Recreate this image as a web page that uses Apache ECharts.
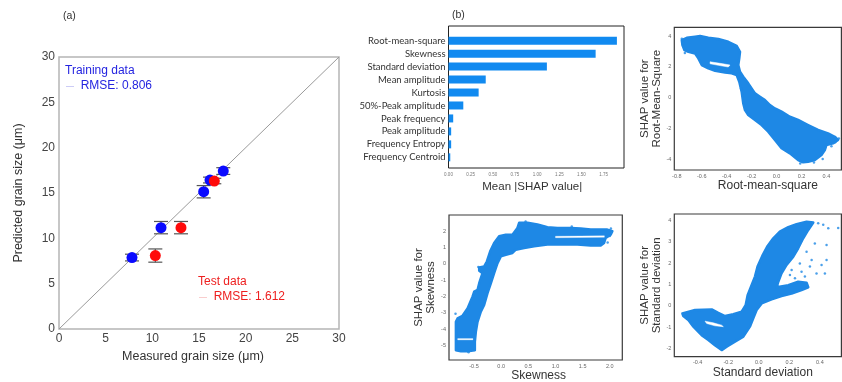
<!DOCTYPE html>
<html><head><meta charset="utf-8">
<script src="https://cdn.jsdelivr.net/npm/echarts@6/dist/echarts.min.js"></script>
<style>html,body{margin:0;padding:0;background:#fff}#c{width:842px;height:382px}</style>
</head><body><div id="c"></div>
<script>
// ---------- Panel (a): measured vs predicted grain size ----------
const trainMeasured  = [7.82, 10.93, 15.5, 16.18, 17.6];
const trainPredicted = [7.88, 11.18, 15.14, 16.43, 17.42];
const trainErr       = [0.37, 0.68, 0.68, 0.32, 0.37];
const testMeasured   = [10.32, 13.07, 16.64];
const testPredicted  = [8.1, 11.18, 16.32];
const testErr        = [0.73, 0.68, 0.3];
const identityLine   = [[0, 0], [30, 30]];

// ---------- Panel (b): mean |SHAP| ----------
const features = ['Root-mean-square','Skewness','Standard deviation','Mean amplitude','Kurtosis',
  '50%-Peak amplitude','Peak frequency','Peak amplitude','Frequency Entropy','Frequency Centroid'];
const meanShap = [1.90, 1.66, 1.11, 0.42, 0.34, 0.167, 0.053, 0.03, 0.03, 0.02];

// ---------- Dependence clouds (outline of dense region) ----------
const rmsCloud = [[-0.76,3.74],[-0.72,3.89],[-0.653,3.96],[-0.613,4.0],[-0.547,3.89],[-0.467,3.81],
  [-0.387,3.63],[-0.32,3.37],[-0.293,2.98],[-0.299,2.55],[-0.307,2.12],[-0.293,1.68],[-0.267,1.36],
  [-0.227,0.93],[-0.173,0.28],[-0.133,0.06],[-0.093,-0.16],[-0.053,-0.48],[-0.013,-0.7],[0.04,-0.91],
  [0.107,-1.24],[0.173,-1.45],[0.253,-1.78],[0.333,-2.1],[0.413,-2.32],[0.467,-2.54],[0.493,-2.75],
  [0.453,-2.97],[0.4,-3.08],[0.387,-3.4],[0.36,-3.73],[0.307,-4.05],[0.253,-4.16],[0.213,-4.2],
  [0.173,-4.05],[0.107,-3.62],[0.04,-3.29],[-0.013,-2.75],[-0.067,-2.21],[-0.12,-1.78],[-0.173,-1.45],
  [-0.227,-1.13],[-0.253,-0.81],[-0.267,-0.37],[-0.28,0.39],[-0.299,1.03],[-0.32,1.47],[-0.36,1.58],
  [-0.413,1.64],[-0.493,1.75],[-0.547,1.9],[-0.6,2.12],[-0.627,2.55],[-0.653,2.87],[-0.707,2.98],
  [-0.739,3.09],[-0.755,3.42]];
const rmsHole = [[-0.533,2.33],[-0.453,2.23],[-0.373,2.12],[-0.387,1.99],[-0.467,2.1],[-0.533,2.2]];
const rmsStray = [[-0.76,3.82],[-0.745,3.55],[-0.735,2.9],[0.47,-2.9],[0.44,-3.15],[0.37,-3.98],
  [0.3,-4.22],[0.19,-4.28],[0.5,-2.65],[-0.285,0.6]];

const skewCloud = [[-0.833,-5.29],[-0.833,-3.55],[-0.803,-3.34],[-0.711,-3.18],[-0.619,-2.73],
  [-0.527,-2.01],[-0.496,-1.7],[-0.435,-1.6],[-0.404,-1.19],[-0.374,-0.88],[-0.343,-0.57],[-0.404,-0.43],
  [-0.404,-0.23],[-0.312,-0.16],[-0.263,0.14],[-0.202,0.76],[-0.129,1.27],[-0.037,1.68],[0.086,1.78],
  [0.208,1.78],[0.3,2.19],[0.331,2.5],[0.484,2.5],[0.668,2.4],[0.852,2.23],[1.036,2.19],[1.281,2.19],
  [1.464,2.15],[1.648,2.09],[1.832,2.09],[1.955,2.09],[2.047,1.99],[2.016,1.78],[1.924,1.58],
  [1.893,1.27],[1.832,1.11],[1.648,1.11],[1.403,1.17],[1.158,1.17],[0.852,1.17],[0.607,1.07],
  [0.423,0.96],[0.27,0.86],[0.208,0.66],[0.086,0.55],[-0.006,0.45],[-0.067,0.04],[-0.129,-0.57],
  [-0.19,-1.19],[-0.251,-1.8],[-0.313,-2.52],[-0.374,-2.93],[-0.435,-3.55],[-0.466,-4.16],
  [-0.484,-4.77],[-0.484,-5.29],[-0.619,-5.35],[-0.741,-5.35]];
const skewGapTop = [[1.0,1.68],[1.9,1.71],[1.9,1.62],[1.0,1.59]];
const skewGapLow = [[-0.8,-4.57],[-0.52,-4.57],[-0.52,-4.65],[-0.8,-4.65]];
const skewStray = [[2.02,2.16],[2.0,1.7],[1.96,1.3],[-0.84,-3.05],[-0.6,-5.4],[0.45,2.58],[1.3,2.28],[-0.42,-0.2]];

const stdCloud = [[-0.5,-0.36],[-0.417,-0.2],[-0.308,-0.17],[-0.265,-0.33],[-0.221,-0.48],[-0.167,-0.4],
  [-0.112,-0.28],[-0.086,0.03],[-0.073,0.5],[-0.051,0.9],[-0.025,1.37],[-0.008,1.84],[0.023,2.34],
  [0.058,2.81],[0.095,3.17],[0.138,3.48],[0.193,3.69],[0.247,3.83],[0.313,3.95],[0.357,3.91],
  [0.324,3.56],[0.291,3.17],[0.258,2.7],[0.226,2.31],[0.182,1.92],[0.149,1.52],[0.128,1.13],
  [0.117,0.87],[0.193,0.97],[0.258,1.13],[0.313,1.08],[0.324,0.87],[0.28,0.74],[0.215,0.58],
  [0.149,0.46],[0.084,0.3],[0.019,0.11],[-0.014,-0.2],[-0.036,-0.59],[-0.058,-0.98],[-0.101,-1.45],
  [-0.156,-1.69],[-0.21,-1.92],[-0.243,-2.08],[-0.287,-1.85],[-0.33,-1.61],[-0.374,-1.38],
  [-0.428,-0.98],[-0.461,-0.67],[-0.494,-0.48]];
const stdHole = [[-0.352,-0.72],[-0.298,-0.8],[-0.243,-0.91],[-0.232,-0.98],[-0.287,-0.94],[-0.341,-0.83]];
const stdStray = [[0.389,3.87],[0.422,3.8],[0.455,3.64],[0.367,2.93],[0.444,2.86],[0.346,2.15],
  [0.411,1.92],[0.444,2.15],[0.378,1.52],[0.433,1.52],[0.28,1.6],[0.237,1.29],[0.204,1.45],
  [0.313,2.54],[0.335,1.84],[0.215,1.68],[0.269,1.99],[0.302,1.37],[0.52,3.65]];

// ---------- helpers ----------
const CLOUD = '#1e88e5';
const SANS = '"Liberation Sans", Arial, sans-serif';
function polySeries(points, fill, xi, lw){
  return {type:'custom', coordinateSystem:'cartesian2d', xAxisIndex:xi, yAxisIndex:xi, silent:true,
    data: points, encode:{x:0,y:1}, clip:true,
    renderItem:(params, api)=> params.dataIndex!==0 ? null : {type:'polygon',
      shape:{points: points.map(p=>api.coord(p))},
      style:{fill: fill, stroke: fill, lineWidth: lw, lineJoin:'round'}}};
}
function strayScatter(points, xi){
  return {type:'scatter', xAxisIndex:xi, yAxisIndex:xi, data:points, symbolSize:2.5,
    itemStyle:{color:CLOUD}, silent:true};
}
function errRender(params, api){
  const x=api.value(0), lo=api.value(1), hi=api.value(2);
  const a=api.coord([x,lo]), b=api.coord([x,hi]);
  const w=7, st={stroke:'#555', lineWidth:1.2};
  return {type:'group', children:[
    {type:'line', shape:{x1:a[0],y1:a[1],x2:b[0],y2:b[1]}, style:st},
    {type:'line', shape:{x1:a[0]-w,y1:a[1],x2:a[0]+w,y2:a[1]}, style:st},
    {type:'line', shape:{x1:b[0]-w,y1:b[1],x2:b[0]+w,y2:b[1]}, style:st}]};
}
const tiny = {fontSize:5.5, color:'#666', fontFamily:SANS, margin:3};
function depX(gi,min,max,step,name,padL,dec){
  return {gridIndex:gi, type:'value', min:min, max:max, minInterval:step, maxInterval:step,
    axisLine:{show:false}, axisTick:{show:false}, splitLine:{show:false},
    axisLabel:Object.assign({showMinLabel:false, showMaxLabel:false, formatter:v=>v.toFixed(dec)}, tiny),
    name:name, nameLocation:'middle', nameGap:10,
    nameTextStyle:{fontSize:12, color:'#333', fontFamily:SANS, padding:[0,0,0,padL]}};
}
function depY(gi,min,max,step,name,gap){
  return {gridIndex:gi, type:'value', min:min, max:max, minInterval:step, maxInterval:step,
    axisLine:{show:false}, axisTick:{show:false}, splitLine:{show:false},
    axisLabel:Object.assign({showMinLabel:false, showMaxLabel:false}, tiny),
    name:name, nameLocation:'middle', nameGap:gap, nameRotate:90,
    nameTextStyle:{fontSize:11.5, color:'#333', fontFamily:SANS, lineHeight:12}};
}

const chart = echarts.init(document.getElementById('c'), null, {renderer:'canvas'});
const gs = {show:true, borderColor:'#3a3a3a', borderWidth:1.2, outerBoundsMode:'none'};
chart.setOption({
  animation:false,
  backgroundColor:'#fff',
  grid:[
    {left:59, top:57, width:280, height:272, show:true, borderColor:'#b5b5b5', borderWidth:1.5, outerBoundsMode:'none'},
    Object.assign({left:448.5, top:26, width:175.5, height:142}, gs, {borderColor:'#222', borderWidth:1}),
    {left:448.5, top:34.2, width:175.5, height:129.6, show:false, outerBoundsMode:'none'},
    Object.assign({left:674.3, top:27.3, right:0.6, height:142.7}, gs),
    Object.assign({left:449, top:215, width:173.3, height:145}, gs),
    Object.assign({left:674.3, top:214, right:0.6, height:142.7}, gs)
  ],
  xAxis:[
    {gridIndex:0, type:'value', min:0, max:30, interval:5, axisLine:{show:false}, axisTick:{show:false},
     splitLine:{show:false}, axisLabel:{fontSize:12, color:'#444', fontFamily:SANS, margin:4},
     name:'Measured grain size (μm)', nameLocation:'middle', nameGap:15,
     nameTextStyle:{fontSize:12.5, color:'#333', fontFamily:SANS, padding:[0,12,0,0]}},
    {gridIndex:1, type:'value', min:0, max:1.98, interval:0.25, axisLine:{show:false}, axisTick:{show:false},
     splitLine:{show:false}, axisLabel:{fontSize:4.5, color:'#777', fontFamily:SANS, margin:4, showMaxLabel:false, formatter:v=>v.toFixed(2)},
     name:'Mean |SHAP value|', nameLocation:'middle', nameGap:13,
     nameTextStyle:{fontSize:11.5, color:'#333', fontFamily:SANS, padding:[0,8,0,0]}},
    {gridIndex:2, type:'value', min:0, max:1.98, show:false},
    depX(3,-0.82,0.52,0.2,'Root-mean-square',20,1),
    depX(4,-0.96,2.23,0.5,'Skewness',6,1),
    depX(5,-0.553,0.541,0.2,'Standard deviation',10,1)
  ],
  yAxis:[
    {gridIndex:0, type:'value', min:0, max:30, interval:5, axisLine:{show:false}, axisTick:{show:false},
     splitLine:{show:false}, axisLabel:{fontSize:12, color:'#444', fontFamily:SANS, margin:4},
     name:'Predicted grain size (μm)', nameLocation:'middle', nameGap:34, nameRotate:90,
     nameTextStyle:{fontSize:12.5, color:'#333', fontFamily:SANS}},
    {gridIndex:1, type:'value', show:false},
    {gridIndex:2, type:'category', data:features, inverse:true, axisLine:{show:false}, axisTick:{show:false},
     axisLabel:{interval:0, fontSize:9.5, color:'#333', fontFamily:'Lato, "Open Sans", sans-serif', margin:3}},
    depY(3,-4.7,4.57,2,'SHAP value for\nRoot-Mean-Square',7),
    depY(4,-5.88,2.98,1,'SHAP value for\nSkewness',9),
    depY(5,-2.39,4.31,1,'SHAP value for\nStandard deviation',8)
  ],
  graphic:[
    {type:'text', left:63, top:11, style:{text:'(a)', fontSize:10.5, fill:'#333', fontFamily:SANS}},
    {type:'text', left:452, top:10, style:{text:'(b)', fontSize:10.5, fill:'#333', fontFamily:SANS}},
    {type:'text', left:65, top:65, style:{text:'Training data', fontSize:12, fill:'#2424e0', fontFamily:SANS}},
    {type:'text', left:66, top:80, style:{text:'{d|—}  RMSE: 0.806', fontSize:12, fill:'#2424e0', fontFamily:SANS,
      rich:{d:{fontSize:8, fill:'#9a9aee'}}}},
    {type:'text', left:198, top:276, style:{text:'Test data', fontSize:12, fill:'#ee2020', fontFamily:SANS}},
    {type:'text', left:199, top:291, style:{text:'{d|—}  RMSE: 1.612', fontSize:12, fill:'#ee2020', fontFamily:SANS,
      rich:{d:{fontSize:8, fill:'#f3a0a0'}}}}
  ],
  series:[
    {type:'line', xAxisIndex:0, yAxisIndex:0, data:identityLine, symbol:'none',
     lineStyle:{color:'#9a9a9a', width:1}, silent:true, z:1},
    {type:'custom', xAxisIndex:0, yAxisIndex:0, renderItem:errRender, encode:{x:0,y:[1,2]}, z:2,
     data: trainMeasured.map((x,i)=>[x, trainPredicted[i]-trainErr[i], trainPredicted[i]+trainErr[i]])},
    {type:'custom', xAxisIndex:0, yAxisIndex:0, renderItem:errRender, encode:{x:0,y:[1,2]}, z:2,
     data: testMeasured.map((x,i)=>[x, testPredicted[i]-testErr[i], testPredicted[i]+testErr[i]])},
    {type:'scatter', xAxisIndex:0, yAxisIndex:0, symbolSize:11, itemStyle:{color:'#0a0aff', opacity:1}, z:3,
     data: trainMeasured.map((x,i)=>[x, trainPredicted[i]])},
    {type:'scatter', xAxisIndex:0, yAxisIndex:0, symbolSize:11, itemStyle:{color:'#ff0a0a', opacity:1}, z:4,
     data: testMeasured.map((x,i)=>[x, testPredicted[i]])},
    {type:'bar', xAxisIndex:2, yAxisIndex:2, data:meanShap, barWidth:8, itemStyle:{color:'#118af0'}, silent:true},
    polySeries(rmsCloud, CLOUD, 3, 2.5), polySeries(rmsHole, '#fff', 3, 0.5), strayScatter(rmsStray, 3),
    polySeries(skewCloud, CLOUD, 4, 2.5), polySeries(skewGapTop, '#fff', 4, 0.3), polySeries(skewGapLow, '#fff', 4, 0.3),
    strayScatter(skewStray, 4),
    polySeries(stdCloud, CLOUD, 5, 2.5), polySeries(stdHole, '#fff', 5, 0.5), strayScatter(stdStray, 5)
  ]
});
</script></body></html>
